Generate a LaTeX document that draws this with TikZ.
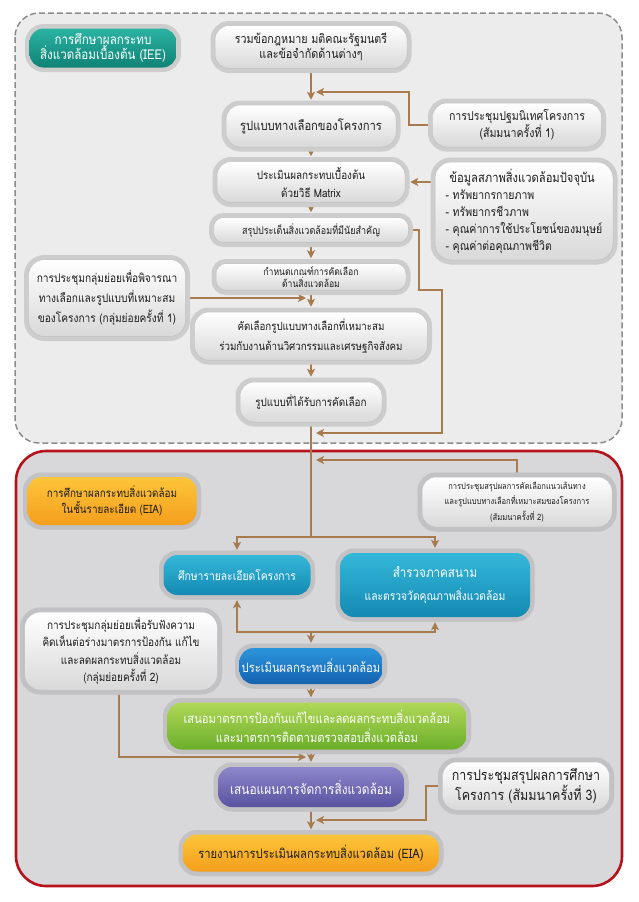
\documentclass[tikz,border=0pt]{standalone}
\usepackage{fontspec}
\newfontfamily\thaifont[Script=Thai,FakeStretch=0.86]{Loma}
\usetikzlibrary{arrows.meta}

\definecolor{topbg}{HTML}{ECECEC}
\definecolor{dashc}{HTML}{8C8C8C}
\definecolor{botbg}{HTML}{D8D8DA}
\definecolor{redc}{HTML}{B5121B}
\definecolor{arrowc}{HTML}{A87B4F}
\definecolor{haloc}{HTML}{CDCDCD}
\definecolor{halob}{HTML}{C2C2C5}
\definecolor{inkc}{HTML}{1E1E1E}
\definecolor{tealtop}{HTML}{2BB3A3}
\definecolor{tealbot}{HTML}{0F8275}
\definecolor{orangetop}{HTML}{FDC53A}
\definecolor{orangebot}{HTML}{F49E1C}
\definecolor{cyantop}{HTML}{34B8DA}
\definecolor{cyanbot}{HTML}{1489B2}
\definecolor{bluetop}{HTML}{2C95DC}
\definecolor{bluebot}{HTML}{1462B0}
\definecolor{greentop}{HTML}{B0D857}
\definecolor{greenbot}{HTML}{6BAE2A}
\definecolor{purpletop}{HTML}{8C86CA}
\definecolor{purplebot}{HTML}{5A53A1}

\pgfdeclarelayer{regions}
\pgfdeclarelayer{edges}
\pgfsetlayers{regions,edges,main}

\tikzstyle{pill}=[rounded corners=14pt, align=center, inner sep=2pt, text=inkc,
  font=\thaifont\fontsize{11}{17}\selectfont,
  preaction={draw=haloc, line width=9pt}]
\tikzstyle{plainbox}=[pill, top color=white, bottom color=gray!30, draw=gray!50, line width=0.5pt]
\tikzstyle{lowbox}=[plainbox, preaction={draw=halob, line width=9pt}]
\tikzstyle{tealbox}=[pill, top color=tealtop, bottom color=tealbot, text=white]
\tikzstyle{orangebox}=[pill, preaction={draw=halob, line width=9pt}, top color=orangetop, bottom color=orangebot]
\tikzstyle{cyanbox}=[pill, preaction={draw=halob, line width=9pt}, top color=cyantop, bottom color=cyanbot, text=white]
\tikzstyle{bluebox}=[pill, preaction={draw=halob, line width=9pt}, top color=bluetop, bottom color=bluebot, text=white]
\tikzstyle{greenbox}=[pill, preaction={draw=halob, line width=9pt}, top color=greentop, bottom color=greenbot, text=white]
\tikzstyle{purplebox}=[pill, preaction={draw=halob, line width=9pt}, top color=purpletop, bottom color=purplebot, text=white]
\tikzstyle{flow}=[draw=arrowc, line width=1.8pt, -{Stealth[length=8pt,width=8pt,inset=2pt]}, shorten >=5pt]
\tikzstyle{line}=[draw=arrowc, line width=1.8pt]

\begin{document}
\begin{tikzpicture}[x=1pt, y=-1pt]
\useasboundingbox (0,0) rectangle (638,902);

\begin{pgfonlayer}{regions}
\draw[fill=topbg, draw=dashc, line width=1.5pt, dash pattern=on 6pt off 3pt, rounded corners=24pt] (15,13) rectangle (622,443);
\draw[fill=botbg, draw=redc, line width=2.6pt, rounded corners=30pt] (16,451) rectangle (622,886);
\end{pgfonlayer}

% IEE part
\node[tealbox, minimum width=147pt, minimum height=39pt, font=\thaifont\fontsize{13.5}{15}\selectfont](iee) at (103,48) {การศึกษาผลกระทบ\\สิ่งแวดล้อมเบื้องต้น (IEE)};
\node[plainbox, minimum width=192pt, minimum height=43pt, font=\thaifont\fontsize{12.5}{15}\selectfont](law) at (311,47) {รวมข้อกฎหมาย มติคณะรัฐมนตรี\\และข้อจำกัดด้านต่างๆ};
\node[plainbox, minimum width=170pt, minimum height=42pt, font=\thaifont\fontsize{13}{15}\selectfont](alt) at (311,126) {รูปแบบทางเลือกของโครงการ};
\node[plainbox, minimum width=169pt, minimum height=44pt, font=\thaifont\fontsize{12.3}{15}\selectfont](sem1) at (517,125) {การประชุมปฐมนิเทศโครงการ\\(สัมมนาครั้งที่ 1)};
\node[plainbox, minimum width=188pt, minimum height=41pt, font=\thaifont\fontsize{11.5}{18}\selectfont](prelim) at (311,182) {ประเมินผลกระทบเบื้องต้น\\ด้วยวิธี Matrix};
\node[plainbox, minimum width=178pt, minimum height=98pt, align=left, rounded corners=16pt, font=\thaifont\fontsize{12.2}{17}\selectfont](info) at (524,211) {{\fontsize{13}{17}\selectfont\ ข้อมูลสภาพสิ่งแวดล้อมปัจจุบัน}\\- ทรัพยากรกายภาพ\\- ทรัพยากรชีวภาพ\\- คุณค่าการใช้ประโยชน์ของมนุษย์\\- คุณค่าต่อคุณภาพชีวิต};
\node[plainbox, minimum width=195pt, minimum height=25pt, rounded corners=10pt, font=\thaifont\fontsize{10.5}{15}\selectfont](sig) at (311,230) {สรุปประเด็นสิ่งแวดล้อมที่มีนัยสำคัญ};
\node[plainbox, minimum width=190pt, minimum height=27pt, rounded corners=10pt, font=\thaifont\fontsize{10}{12}\selectfont](crit) at (311,277) {กำหนดเกณฑ์การคัดเลือก\\ด้านสิ่งแวดล้อม};
\node[plainbox, minimum width=157pt, minimum height=77pt, rounded corners=16pt, font=\thaifont\fontsize{11.8}{20}\selectfont](sub1) at (107,298) {การประชุมกลุ่มย่อยเพื่อพิจารณา\\ทางเลือกและรูปแบบที่เหมาะสม\\ของโครงการ (กลุ่มย่อยครั้งที่ 1)};
\node[plainbox, minimum width=233pt, minimum height=48pt, font=\thaifont\fontsize{11.3}{20}\selectfont](sel) at (311,336) {คัดเลือกรูปแบบทางเลือกที่เหมาะสม\\ร่วมกับงานด้านวิศวกรรมและเศรษฐกิจสังคม};
\node[plainbox, minimum width=142pt, minimum height=40pt, font=\thaifont\fontsize{11.5}{15}\selectfont](chosen) at (311,402) {รูปแบบที่ได้รับการคัดเลือก};

% EIA part
\node[orangebox, minimum width=169pt, minimum height=48pt, font=\thaifont\fontsize{11.5}{16}\selectfont](eia) at (112,501) {การศึกษาผลกระทบสิ่งแวดล้อม\\ในชั้นรายละเอียด (EIA)};
\node[lowbox, minimum width=190pt, minimum height=50pt, font=\thaifont\fontsize{8.8}{15.5}\selectfont](sem2) at (517,502) {การประชุมสรุปผลการคัดเลือกแนวเส้นทาง\\และรูปแบบทางเลือกที่เหมาะสมของโครงการ\\(สัมมนาครั้งที่ 2)};
\node[cyanbox, minimum width=147pt, minimum height=40pt, font=\thaifont\fontsize{12}{17}\selectfont](detail) at (237,575) {ศึกษารายละเอียดโครงการ};
\node[cyanbox, minimum width=190pt, minimum height=64pt, font=\thaifont\fontsize{12}{23}\selectfont](survey) at (435,585) {{\fontsize{13.5}{23}\selectfont สำรวจภาคสนาม}\\และตรวจวัดคุณภาพสิ่งแวดล้อม};
\node[lowbox, minimum width=193pt, minimum height=78pt, rounded corners=16pt, font=\thaifont\fontsize{11.6}{17.5}\selectfont](sub2) at (121,651) {การประชุมกลุ่มย่อยเพื่อรับฟังความ\\คิดเห็นต่อร่างมาตรการป้องกัน แก้ไข\\และลดผลกระทบสิ่งแวดล้อม\\(กลุ่มย่อยครั้งที่ 2)};
\node[bluebox, minimum width=143pt, minimum height=36pt, font=\thaifont\fontsize{13}{15}\selectfont](assess) at (311,666) {ประเมินผลกระทบสิ่งแวดล้อม};
\node[greenbox, minimum width=299pt, minimum height=47pt, font=\thaifont\fontsize{13}{19}\selectfont](measure) at (317,726) {เสนอมาตรการป้องกันแก้ไขและลดผลกระทบสิ่งแวดล้อม\\และมาตรการติดตามตรวจสอบสิ่งแวดล้อม};
\node[purplebox, minimum width=186pt, minimum height=40pt, font=\thaifont\fontsize{13.8}{15}\selectfont](plan) at (311,787) {เสนอแผนการจัดการสิ่งแวดล้อม};
\node[lowbox, minimum width=167pt, minimum height=48pt, font=\thaifont\fontsize{14.5}{17}\selectfont](sem3) at (526,786) {การประชุมสรุปผลการศึกษา\\ โครงการ (สัมมนาครั้งที่ 3)};
\node[orangebox, minimum width=256pt, minimum height=37pt, font=\thaifont\fontsize{13}{15}\selectfont](report) at (311,853) {รายงานการประเมินผลกระทบสิ่งแวดล้อม (EIA)};

% joints on the main line
\coordinate (j1) at (311,92);
\coordinate (j2) at (311,298);
\coordinate (j3) at (311,433);
\coordinate (j4) at (311,460);
\coordinate (split) at (311,537);
\coordinate (merge) at (311,632);
\coordinate (j5) at (311,757);
\coordinate (j6) at (311,820);

\begin{pgfonlayer}{edges}
\draw[flow] (law) -- (alt);
\draw[flow] (sem1.west) -- ++(-23,0) |- (j1);
\draw[flow] (alt) -- (prelim);
\draw[flow] (info.west |- prelim) -- (prelim);
\draw[flow] (prelim) -- (sig);
\draw[flow] (sig) -- (crit);
\draw[flow] (crit) -- (sel);
\draw[flow] (sub1) -- (j2);
\draw[flow] (sel) -- (chosen);
\draw[flow] (sig.east) -- ++(10,0) -- ++(0,60) -- ++(23,0) |- (j3);
\draw[flow] (sem2) |- (j4);
\draw[line] (chosen) -- (split);
\draw[flow] (split) -| (detail);
\draw[flow] (split) -| (survey);
\draw[flow] (merge) -| (detail);
\draw[flow] (merge) -| (survey);
\draw[flow] (merge) -- (assess);
\draw[flow] (assess) -- (assess |- measure.north);
\draw[flow] (measure.south -| plan) -- (plan);
\draw[flow] (sub2.south -| 119,0) |- (j5);
\draw[flow] (plan) -- (report);
\draw[flow] (sem3.west) -- ++(-16,0) |- (j6);
\end{pgfonlayer}
\end{tikzpicture}
\end{document}
